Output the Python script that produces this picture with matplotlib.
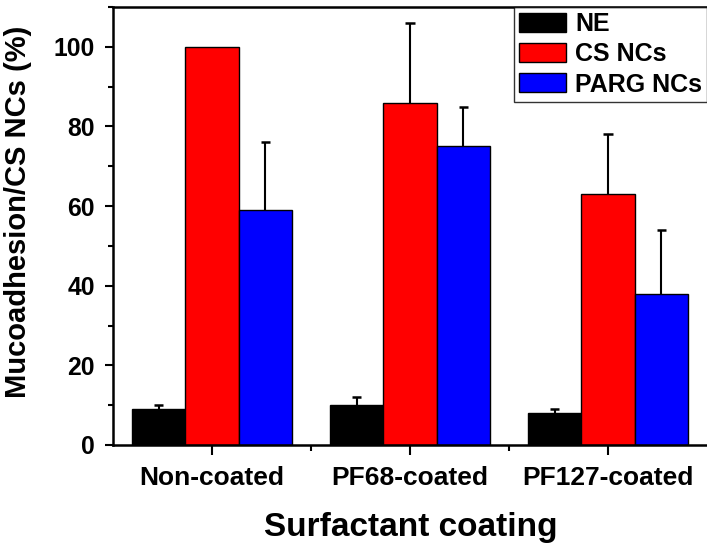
import numpy as np
import matplotlib
matplotlib.use("Agg")
import matplotlib.pyplot as plt
from matplotlib.ticker import MultipleLocator, FixedLocator

groups = ["Non-coated", "PF68-coated", "PF127-coated"]
series = ["NE", "CS NCs", "PARG NCs"]
ne = [9, 10, 8]
cs = [100, 86, 63]
parg = [59, 75, 38]
ne_err = [1, 2, 1]
cs_err = [0, 20, 15]
parg_err = [17, 10, 16]
colors = ["#000000", "#ff0000", "#0000ff"]

plt.rcParams['font.family'] = ['Liberation Sans', 'DejaVu Sans']
plt.rcParams['font.weight'] = 'bold'

fig = plt.figure(figsize=(7.07, 5.46), dpi=100)
ax = fig.add_axes([113 / 707, 1 - 445 / 546, 594 / 707, 438 / 546])

x = np.arange(1, len(groups) + 1)
w = 0.27
cap = 0.023
vals = [ne, cs, parg]
errs = [ne_err, cs_err, parg_err]
for i, (v, e, c, name) in enumerate(zip(vals, errs, colors, series)):
    xp = x + (i - 1) * w
    ax.bar(xp, v, w, color=c, edgecolor='black', linewidth=1,
           label=name, zorder=2)
    v = np.array(v)
    e = np.array(e)
    m = e > 0
    ax.vlines(xp[m], v[m], v[m] + e[m], color='black', linewidth=1.5, zorder=1)
    ax.hlines(v[m] + e[m], xp[m] - cap, xp[m] + cap, color='black',
              linewidth=1.8, zorder=1)

ax.set_xlim(0.5, 3.5)
ax.set_ylim(0, 110)
ax.set_xticks(x)
ax.set_xticklabels(groups, fontsize=19, fontweight='bold')
ax.xaxis.set_minor_locator(FixedLocator([1.5, 2.5]))
ax.yaxis.set_major_locator(MultipleLocator(20))
ax.yaxis.set_minor_locator(MultipleLocator(10))
ax.tick_params(axis='y', which='major', labelsize=17.8, length=6, width=1.5, pad=7)
ax.tick_params(axis='y', which='minor', length=3.5, width=1.5)
ax.tick_params(axis='x', which='major', length=7, width=1.5, pad=8)
ax.tick_params(axis='x', which='minor', length=4, width=1.5)
for lab in ax.get_yticklabels():
    lab.set_fontweight('bold')

for s in ['left', 'bottom', 'top']:
    ax.spines[s].set_linewidth(1.8)
ax.spines['right'].set_visible(False)

ax.set_ylabel("Mucoadhesion/CS NCs (%)", fontsize=21, fontweight='bold')
ax.yaxis.set_label_coords(-0.136, 0.533)
ax.set_xlabel("Surfactant coating", fontsize=24, fontweight='bold')
ax.xaxis.set_label_coords(0.502, -0.153)

leg = ax.legend(loc='upper right', bbox_to_anchor=(1.0, 1.0), borderaxespad=0,
                frameon=True, fancybox=False, handlelength=1.9,
                handleheight=0.8, handletextpad=0.36, labelspacing=0.25,
                borderpad=0.2, prop={'weight': 'bold', 'size': 18})
leg.get_frame().set_edgecolor('black')
leg.get_frame().set_linewidth(1)

fig.savefig("out.png", dpi=100)
